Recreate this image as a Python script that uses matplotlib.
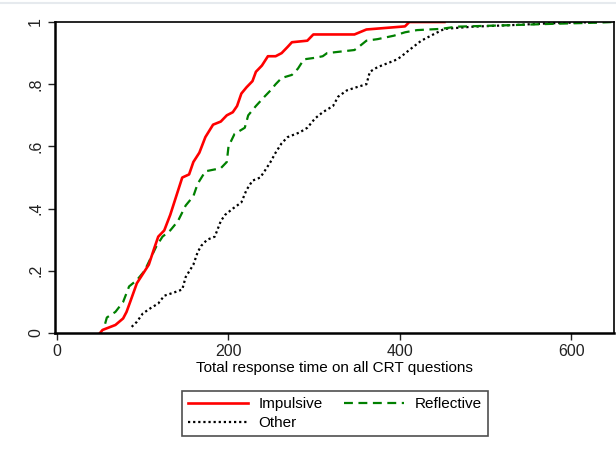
import matplotlib.pyplot as plt
from matplotlib.lines import Line2D

plt.rcParams['font.family'] = ['Liberation Sans', 'DejaVu Sans']

# cumulative distribution of total response time, by type
impulsive_x = [50, 53, 68, 77, 81, 86, 93, 100, 107, 113, 118, 125, 132, 139, 146, 154,
               159, 166, 173, 182, 191, 198, 205, 210, 215, 221, 228, 232, 239, 246, 255,
               262, 269, 274, 292, 299, 347, 361, 406, 411, 452]
impulsive_y = [0, 0.01, 0.026, 0.047, 0.068, 0.106, 0.16, 0.19, 0.22, 0.27, 0.31, 0.33,
               0.38, 0.44, 0.50, 0.51, 0.55, 0.58, 0.63, 0.67, 0.68, 0.70, 0.71, 0.73,
               0.77, 0.79, 0.81, 0.84, 0.86, 0.89, 0.89, 0.90, 0.92, 0.935, 0.94, 0.96,
               0.96, 0.976, 0.986, 1.0, 1.0]

reflective_x = [56, 58, 68, 77, 84, 93, 102, 109, 116, 123, 132, 141, 150, 159, 164, 173,
                191, 198, 200, 207, 219, 223, 232, 242, 249, 255, 262, 274, 281, 288, 301,
                310, 315, 347, 352, 361, 374, 393, 406, 420, 448, 466, 530, 576, 631, 649]
reflective_y = [0.03, 0.05, 0.068, 0.10, 0.15, 0.17, 0.20, 0.24, 0.28, 0.31, 0.33, 0.36,
                0.41, 0.44, 0.48, 0.52, 0.53, 0.55, 0.60, 0.64, 0.66, 0.70, 0.73, 0.76,
                0.78, 0.80, 0.82, 0.83, 0.85, 0.88, 0.885, 0.89, 0.90, 0.91, 0.92, 0.94,
                0.945, 0.956, 0.967, 0.974, 0.978, 0.985, 0.99, 0.994, 0.998, 1.0]

other_x = [87, 93, 100, 109, 118, 125, 136, 146, 150, 159, 164, 168, 175, 184, 191, 196,
           205, 215, 221, 228, 237, 242, 249, 255, 262, 269, 283, 292, 301, 310, 322, 328,
           338, 349, 361, 365, 374, 388, 397, 402, 411, 425, 439, 452, 485, 530, 576, 631]
other_y = [0.02, 0.036, 0.063, 0.08, 0.095, 0.12, 0.13, 0.14, 0.18, 0.22, 0.26, 0.28,
           0.30, 0.31, 0.36, 0.38, 0.40, 0.42, 0.46, 0.49, 0.50, 0.52, 0.55, 0.58, 0.61,
           0.63, 0.645, 0.66, 0.69, 0.71, 0.73, 0.76, 0.78, 0.79, 0.80, 0.84, 0.855, 0.87,
           0.88, 0.89, 0.91, 0.94, 0.96, 0.978, 0.985, 0.99, 0.996, 1.0]

x_ticks = [0, 200, 400, 600]
y_ticks = [0, 0.2, 0.4, 0.6, 0.8, 1.0]
y_labels = ['0', '.2', '.4', '.6', '.8', '1']

fig = plt.figure(figsize=(6.16, 4.55), dpi=100)
ax = fig.add_axes([0.0893, 0.268, 0.9075, 0.6836])

ax.plot(other_x, other_y, color='black', lw=1.6, linestyle=(0, (1, 1.3)))
ax.plot(reflective_x, reflective_y, color='#008000', lw=1.6, linestyle=(0, (4, 2.5)))
ax.plot(impulsive_x, impulsive_y, color='#ff0000', lw=1.9)

ax.set_xlim(-2.5, 650)
ax.set_ylim(0, 1)
ax.set_xticks(x_ticks)
ax.set_yticks(y_ticks)
ax.set_yticklabels(y_labels, rotation=90, va='center')
ax.tick_params(direction='out', length=5, width=1, labelsize=11.5, colors='#222222')
ax.tick_params(axis='x', pad=3)
for side in ['left', 'bottom']:
    ax.spines[side].set_linewidth(1.8)
for side in ['top', 'right']:
    ax.spines[side].set_linewidth(1.2)
ax.set_xlabel('Total response time on all CRT questions', fontsize=11, labelpad=1)

# legend filled column by column: Impulsive/Other on the left, Reflective on the right
handles = [Line2D([], [], color='#ff0000', lw=1.9),
           Line2D([], [], color='black', lw=1.6, linestyle=(0, (1, 1.3))),
           Line2D([], [], color='#008000', lw=1.6, linestyle=(0, (4, 2.5)))]
labels = ['Impulsive', 'Other', 'Reflective']
leg = fig.legend(handles, labels, ncol=2, loc='upper center',
                 bbox_to_anchor=(0.544, 0.158), fontsize=11, frameon=True,
                 fancybox=False, edgecolor='#222222', handlelength=3.9,
                 handletextpad=0.7, columnspacing=1.4, labelspacing=0.35,
                 borderpad=0.4)
leg.get_frame().set_linewidth(1.2)

fig.add_artist(Line2D([0, 1], [0.994, 0.994], color='#e6eaee', lw=1.5,
                      transform=fig.transFigure))

fig.savefig('out.png', dpi=100)
